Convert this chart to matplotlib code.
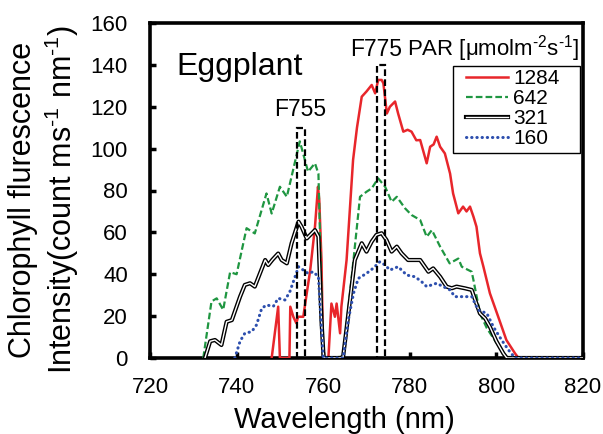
import matplotlib
matplotlib.use("Agg")
import matplotlib.pyplot as plt
import matplotlib.patheffects as pe
from matplotlib.patches import Rectangle

plt.rcParams['font.family'] = ['Liberation Sans', 'DejaVu Sans']
plt.rcParams['mathtext.fontset'] = 'custom'
plt.rcParams['mathtext.rm'] = 'Liberation Sans'
plt.rcParams['mathtext.it'] = 'Liberation Sans'
plt.rcParams['mathtext.bf'] = 'Liberation Sans'

# ---- data ----
red_x = [748.1, 749.6, 750.0, 752.2, 752.4, 753.1, 753.8, 754.2, 755.4, 756.2, 757.0, 758.1, 758.8,
         759.1, 759.6, 760.0, 761.2, 761.9, 762.7, 763.1, 763.9, 764.2, 765.4, 766.9, 767.8, 768.9,
         770.0, 771.2, 772.0, 772.7, 773.5, 773.9, 774.7, 775.4, 776.6, 777.3, 778.5, 779.5, 780.4,
         781.5, 782.4, 783.9, 784.7, 785.5, 786.2, 787.0, 788.1, 789.3, 790.0, 791.2, 792.3, 793.1,
         793.9, 794.7, 795.4, 796.2, 797.0, 798.5, 800.4, 802.3, 804.3, 805.1, 820.0]
red_y = [0, 24.5, 0, 0, 24.5, 19.7, 16.6, 19.7, 19.7, 30.9, 41.9, 62.7, 81.8,
         75, 46.8, 0, 0, 26, 19.7, 26, 11.8, 24.5, 46.8, 94.6, 110, 124.8,
         127.3, 130.4, 126.4, 132.8, 132.8, 131.2, 116.8, 120, 122.5, 116.8, 108.1, 109, 108.1,
         104, 104.1, 93, 100.9, 102, 105.7, 100.9, 97.7, 88.1, 78.6, 69.1, 72.3, 70,
         72.3, 67.5, 62.7, 50, 43.6, 30.9, 19.8, 8.6, 2.2, 0, 0]

grn_x = [732.3, 734.2, 735.4, 736.9, 738.5, 740.0, 742.3, 744.2, 746.9, 748.1, 750.0, 751.6, 754.6, 756.5,
         758.1, 758.9, 760.0, 764.6, 766.2, 768.5, 770.0, 771.2, 772.7, 774.3, 775.8, 777.0, 778.9, 780.4,
         782.4, 783.9, 785.1, 787.0, 789.2, 791.2, 792.0, 794.3, 794.7, 796.2, 797.8, 800.1, 802.4, 820.0]
grn_y = [0, 27, 28.5, 23, 41, 40, 62, 59.5, 78.6, 69, 81.8, 77, 103.5, 89,
         93, 88, 0, 0.6, 31, 77, 79.4, 81, 85.8, 81.8, 74.6, 77, 71.5, 68.3,
         65.9, 57.9, 61.1, 53.2, 45.2, 47.5, 43.6, 41.2, 37.2, 21.3, 14.2, 7, 0, 0]

blk_x = [732.7, 733.9, 735.0, 736.5, 737.7, 738.9, 740.8, 741.9, 743.1, 744.2, 746.6, 747.3, 748.3, 749.6,
         750.4, 751.6, 752.7, 754.3, 755.0, 756.2, 758.1, 758.9, 759.6, 760.1, 764.0, 764.6, 766.2, 767.3,
         768.9, 770.0, 771.2, 772.3, 773.5, 774.6, 775.8, 777.0, 778.1, 779.6, 781.2, 782.4, 784.3, 785.4,
         787.0, 788.5, 789.7, 790.8, 792.7, 794.3, 795.1, 796.2, 797.4, 798.5, 800.0, 801.6, 802.4, 820.0]
blk_y = [0, 8, 8.6, 6.2, 17.3, 18.1, 29.3, 34.9, 35.7, 34.1, 46.8, 44.4, 47, 49.9,
         46.8, 45.2, 54.8, 65.1, 62.7, 57.1, 61.1, 58, 18, 0, 0, 0.6, 27.7, 46.8,
         54.8, 50.8, 55.6, 58.8, 59.6, 56.4, 50.8, 53.2, 50, 46.8, 46.8, 46.8, 41.2, 42.8,
         38.8, 34.1, 33.3, 34.1, 33.3, 32.5, 27.7, 21.3, 18.9, 14.9, 8, 2.2, 0, 0]

blu_x = [739.6, 740.8, 741.9, 743.5, 744.6, 745.8, 746.9, 748.5, 749.6, 751.2, 752.3, 753.5, 754.3, 755.4,
         756.5, 757.7, 758.9, 759.3, 760.0, 764.6, 765.8, 767.0, 768.1, 770.0, 771.5, 773.1, 774.3, 775.4,
         777.3, 779.3, 781.2, 782.7, 783.9, 786.2, 787.7, 789.3, 790.4, 792.3, 794.3, 795.8, 797.8, 799.3,
         801.2, 802.8, 804.3, 820.0]
blu_y = [0, 8, 11.8, 12.6, 15.8, 23.7, 25.3, 24.7, 28.5, 27.7, 31.7, 38.8, 43.6, 42,
         40.4, 41.2, 38.8, 24.5, 0, 0, 18.1, 30.9, 38, 40.4, 42.8, 46, 44.4, 42,
         43.6, 39.6, 38.8, 36.5, 34.1, 35.7, 34.1, 32.5, 29.3, 29.3, 29.3, 22.9, 21.3, 14.9,
         8.6, 3.8, 0, 0]

series_labels = ['1284', '642', '321', '160']
band_labels = ['F755', 'F775']
band_left = [754.0, 772.4]
band_width = [1.8, 1.9]
band_height = [110, 140]
x_ticks = [720, 740, 760, 780, 800, 820]
y_ticks = [0, 20, 40, 60, 80, 100, 120, 140, 160]

# ---- figure ----
fig = plt.figure(figsize=(6.03, 4.34), dpi=100)
ax = fig.add_axes([150/603, 1-358/434, 433/603, 335/434])

ax.plot(red_x, red_y, color='#e8262b', lw=1.8, label=series_labels[0], zorder=3)
ax.plot(grn_x, grn_y, color='#1f9641', lw=1.6, ls=(0, (3.0, 1.4)), label=series_labels[1], zorder=3)
ax.plot(blk_x, blk_y, color='white', lw=1.0, label=series_labels[2], zorder=3,
        path_effects=[pe.Stroke(linewidth=3.0, foreground='black'), pe.Normal()])
ax.plot(blu_x, blu_y, color='#2d4fae', lw=2.2, ls=(0, (0.1, 1.6)), dash_capstyle='round',
        label=series_labels[3], zorder=3)

for lab, x0, w, h in zip(band_labels, band_left, band_width, band_height):
    ax.add_patch(Rectangle((x0, 0), w, h, fill=False, ls=(0, (3, 1.5)), lw=1.6,
                           edgecolor='black', zorder=4))

ax.text(754.6, 115.5, band_labels[0], ha='center', va='baseline', fontsize=16.5)
ax.text(772.2, 144.2, band_labels[1], ha='center', va='baseline', fontsize=16.5)
ax.text(0.593, 0.904, 'PAR [\u03bcmolm$^{\\text{-2}}$s$^{\\text{-1}}$]', transform=ax.transAxes,
        ha='left', va='baseline', fontsize=16)
ax.text(0.062, 0.845, 'Eggplant', transform=ax.transAxes, ha='left', va='baseline', fontsize=23)

ax.set_xlim(720, 820)
ax.set_ylim(0, 160)
ax.set_xticks(x_ticks)
ax.set_yticks(y_ticks)
ax.tick_params(axis='both', direction='in', length=4, width=2.5, labelsize=16)
ax.tick_params(axis='x', pad=13.5)
ax.tick_params(axis='y', pad=16)
for s in ax.spines.values():
    s.set_linewidth(2.6)

# legend box drawn separately (the reference box is wider than its content)
ax.add_patch(Rectangle((0.699, 0.613), 0.294, 0.259, transform=ax.transAxes, fill=False,
                       edgecolor='black', lw=1.0, zorder=5))
leg = ax.legend(loc='center left', bbox_to_anchor=(0.7298, 0.745), borderaxespad=0,
                fontsize=15, frameon=False, handlelength=2.0,
                handletextpad=0.25, labelspacing=0.05, borderpad=0)

ax.set_xlabel('Wavelength (nm)', fontsize=21)
ax.xaxis.set_label_coords(0.450, -0.1445)
fig.text(0.074, 1-200/434, 'Chlorophyll flurescence\nIntensity(count ms$^{\\text{-1}}$ nm$^{\\text{-1}}$)',
         rotation=90, ha='center', va='center', fontsize=22, linespacing=1.15)

fig.savefig('out.png', dpi=100)
